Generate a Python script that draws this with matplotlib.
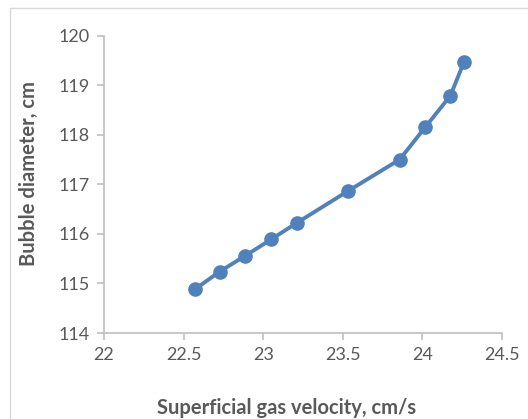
import matplotlib
matplotlib.use("Agg")
import matplotlib.pyplot as plt
from matplotlib.patches import Rectangle

velocity = [22.57, 22.727, 22.888, 23.05, 23.21, 23.53, 23.857, 24.017, 24.176, 24.26]
diameter = [114.88, 115.24, 115.56, 115.89, 116.22, 116.86, 117.50, 118.15, 118.79, 119.46]
xticks = [22, 22.5, 23, 23.5, 24, 24.5]
yticks = [114, 115, 116, 117, 118, 119, 120]

plt.rcParams['font.family'] = ['Lato', 'DejaVu Sans']

fig = plt.figure(figsize=(5.28, 4.19), dpi=100)
fig.patches.append(Rectangle((10/528, -0.1), 1.2, 1 - 8/419 + 0.1, transform=fig.transFigure,
                             fill=False, edgecolor='#D9D9D9', linewidth=1.0))
ax = fig.add_axes([104/528, 1 - 333/419, (502-104)/528, (333-35.7)/419])

ax.plot(velocity, diameter, color='#4F81BD', linewidth=2.8, marker='o', markersize=9.5,
        markerfacecolor='#4F81BD', markeredgecolor='#4F81BD', solid_joinstyle='round')

ax.set_xlim(22, 24.5)
ax.set_ylim(114, 120)
ax.set_xticks(xticks)
ax.set_xticklabels([f"{t:g}" for t in xticks])
ax.set_yticks(yticks)
for s in ['top', 'right']:
    ax.spines[s].set_visible(False)
for s in ['left', 'bottom']:
    ax.spines[s].set_color('#BFBFBF')
    ax.spines[s].set_linewidth(1.2)
ax.tick_params(axis='both', colors='#BFBFBF', length=5, width=1.2, labelsize=13,
               labelcolor='#595959', direction='out')
ax.tick_params(axis='x', pad=5)
ax.tick_params(axis='y', pad=5)

fig.text(287/528, 1 - 408/419, 'Superficial gas velocity, cm/s', ha='center', va='center',
         fontsize=14.5, fontweight='bold', color='#595959')
fig.text(29/528, 1 - 174/419, 'Bubble diameter, cm', ha='center', va='center', rotation=90,
         fontsize=14.5, fontweight='bold', color='#595959')

fig.savefig('out.png', dpi=100)
